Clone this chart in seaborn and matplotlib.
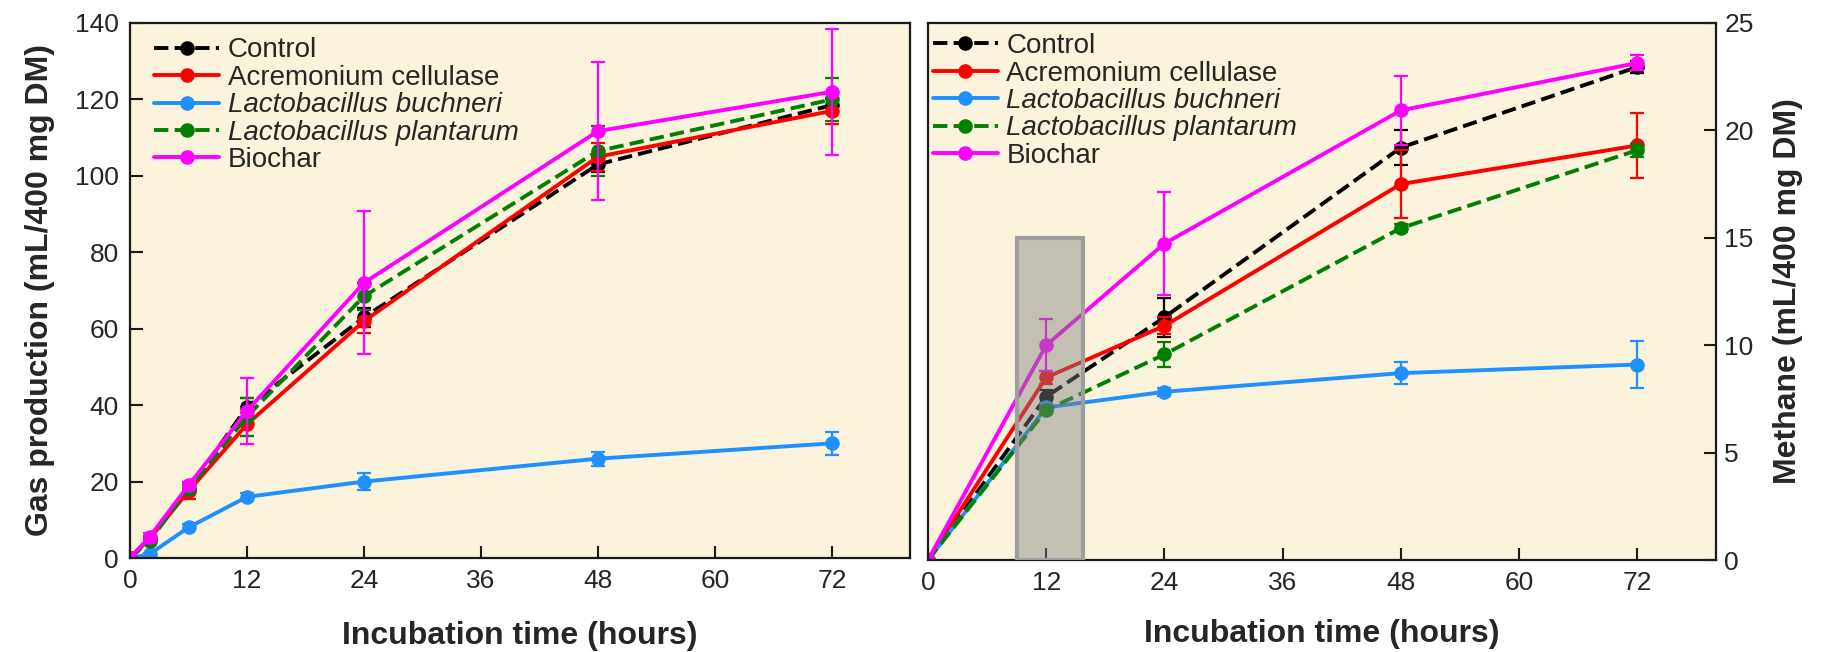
import numpy as np
import pandas as pd
import matplotlib
matplotlib.use("Agg")
import matplotlib.pyplot as plt
from matplotlib.patches import Rectangle
import seaborn as sns

# --- data: gas production (left panel) ---
hours_gas = [0, 2, 6, 12, 24, 48, 72]
gas_control = [0, 5, 18, 39.5, 63, 103, 118.5]
gas_control_err = [0, 0.8, 1.0, 2.5, 2.5, 2.0, 2.0]
gas_acremonium = [0, 5, 17.5, 35, 62, 105, 117]
gas_acremonium_err = [0, 0.8, 2.0, 3.0, 3.0, 3.6, 3.5]
gas_buchneri = [0, 1, 8, 16, 20, 26, 30]
gas_buchneri_err = [0, 0.3, 0.8, 1.0, 2.3, 1.8, 3.0]
gas_plantarum = [0, 4.5, 18, 37, 68.5, 106.5, 120]
gas_plantarum_err = [0, 0.8, 1.0, 5.0, 3.5, 6.5, 5.6]
gas_biochar = [0, 5.5, 19, 38.5, 72, 111.7, 122]
gas_biochar_err = [0, 1.0, 1.0, 8.6, 18.7, 18.0, 16.5]

# --- data: methane (right panel) ---
hours_ch4 = [0, 12, 24, 48, 72]
ch4_control = [0, 7.6, 11.3, 19.2, 22.95]
ch4_control_err = [0, 0.3, 0.9, 0.8, 0.3]
ch4_acremonium = [0, 8.5, 10.9, 17.5, 19.3]
ch4_acremonium_err = [0, 0.3, 0.4, 1.6, 1.5]
ch4_buchneri = [0, 7.1, 7.83, 8.7, 9.1]
ch4_buchneri_err = [0, 0.2, 0.2, 0.5, 1.1]
ch4_plantarum = [0, 6.98, 9.57, 15.45, 19.08]
ch4_plantarum_err = [0, 0.2, 0.6, 0.2, 0.3]
ch4_biochar = [0, 10.0, 14.73, 20.93, 23.14]
ch4_biochar_err = [0, 1.2, 2.4, 1.6, 0.35]

names = ["Control", "Acremonium cellulase", "Lactobacillus buchneri",
         "Lactobacillus plantarum", "Biochar"]
colors = ["black", "#FF0000", "#1E90FF", "#008000", "#FF00FF"]
styles = ["--", "-", "-", "--", "-"]
italic_names = ["Lactobacillus buchneri", "Lactobacillus plantarum"]

gas_series = [(gas_control, gas_control_err), (gas_acremonium, gas_acremonium_err),
              (gas_buchneri, gas_buchneri_err), (gas_plantarum, gas_plantarum_err),
              (gas_biochar, gas_biochar_err)]
ch4_series = [(ch4_control, ch4_control_err), (ch4_acremonium, ch4_acremonium_err),
              (ch4_buchneri, ch4_buchneri_err), (ch4_plantarum, ch4_plantarum_err),
              (ch4_biochar, ch4_biochar_err)]

sns.set_style("ticks")
plt.rcParams["font.family"] = ["Liberation Sans", "DejaVu Sans"]

bg = "#FBF3DC"
W, H = 1829, 652
fig = plt.figure(figsize=(W / 100, H / 100), dpi=100)
ax1 = fig.add_axes([130 / W, (H - 558) / H, 780 / W, 535 / H])
ax2 = fig.add_axes([928 / W, (H - 560) / H, 788 / W, 537 / H])


def draw_panel(ax, hours, series, xpad):
    ax.set_facecolor(bg)
    for name, color, ls, (vals, errs) in zip(names, colors, styles, series):
        df = pd.DataFrame({"hours": hours, "value": vals})
        sns.lineplot(data=df, x="hours", y="value", ax=ax, color=color,
                     linestyle=ls, linewidth=2.8, marker="o", markersize=10.5,
                     markeredgecolor=color, markeredgewidth=0, label=name)
        ax.errorbar(hours, vals, yerr=errs, fmt="none", ecolor=color,
                    elinewidth=1.6, capsize=5, capthick=1.6)
    for side in ["left", "right", "top", "bottom"]:
        ax.spines[side].set_visible(True)
        ax.spines[side].set_linewidth(1.6)
        ax.spines[side].set_color("#1a1a1a")
    ax.set_xlim(0, 80)
    ax.set_xticks([0, 12, 24, 36, 48, 60, 72])
    ax.tick_params(axis="both", direction="in", length=9, width=1.5,
                   labelsize=19, pad=8, color="#1a1a1a")
    ax.set_xlabel("Incubation time (hours)", fontsize=23, fontweight="bold",
                  labelpad=xpad)


draw_panel(ax1, hours_gas, gas_series, 20)
ax1.set_ylim(0, 140)
ax1.set_yticks(range(0, 141, 20))
ax1.set_ylabel("Gas production (mL/400 mg DM)", fontsize=23,
               fontweight="bold", labelpad=14)

draw_panel(ax2, hours_ch4, ch4_series, 17)
ax2.set_ylim(0, 25)
ax2.set_yticks(range(0, 26, 5))
ax2.yaxis.tick_right()
ax2.yaxis.set_label_position("right")
ax2.tick_params(axis="y", left=False, right=True, pad=6)
ax2.set_ylabel("Methane (mL/400 mg DM)", fontsize=23, fontweight="bold",
               labelpad=14)

# gray highlight box around the 12 h methane values
ax2.add_patch(Rectangle((9, 0), 6.75, 15, facecolor=(0.5, 0.5, 0.5, 0.45),
                        edgecolor=(0.62, 0.62, 0.62, 1), linewidth=3,
                        zorder=6))

for ax, anchor in [(ax1, (0.031, 0.973)), (ax2, (0.006, 0.981))]:
    leg = ax.legend(loc="upper left", bbox_to_anchor=anchor, frameon=False,
                    fontsize=20, handlelength=2.35, handletextpad=0.3,
                    labelspacing=0.05, borderpad=0, borderaxespad=0)
    for txt in leg.get_texts():
        if txt.get_text() in italic_names:
            txt.set_fontstyle("italic")

fig.savefig("out.png", dpi=100, facecolor="white")
